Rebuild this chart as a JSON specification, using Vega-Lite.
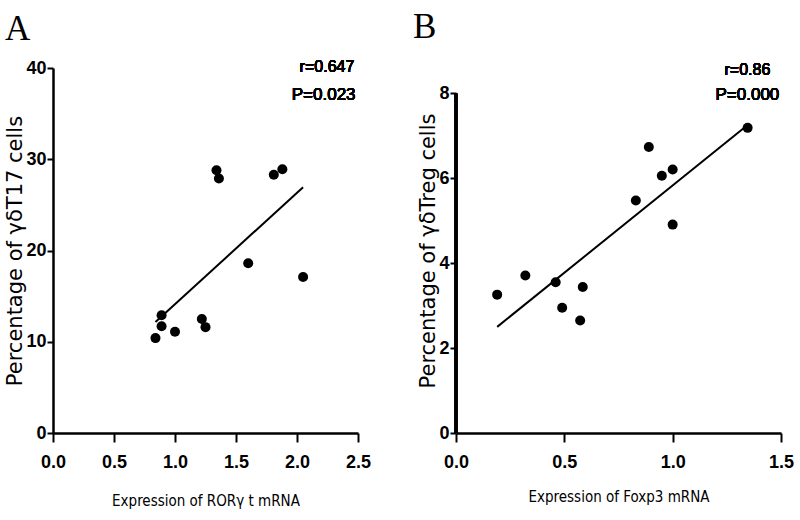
{
  "$schema": "https://vega.github.io/schema/vega-lite/v6.json",
  "padding": {"left": 4, "top": 10, "right": 3, "bottom": 3},
  "spacing": 41,
  "config": {
    "view": {"stroke": null},
    "axis": {
      "grid": false,
      "domainColor": "black",
      "domainWidth": 2.5,
      "tickColor": "black",
      "tickWidth": 2,
      "labelFont": "Liberation Sans",
      "labelFontWeight": "bold",
      "labelFontSize": 18,
      "labelColor": "black",
      "labelOverlap": false,
      "labelFlush": false,
      "titleColor": "black",
      "titleFontWeight": "normal"
    },
    "axisX": {"titleFont": "DejaVu Sans Condensed, Liberation Sans", "titleFontSize": 15, "tickSize": 9, "labelPadding": 11},
    "axisY": {"titleFont": "DejaVu Sans", "titleFontSize": 21, "titlePadding": 0, "tickSize": 6, "labelPadding": 1},
    "title": {"font": "Liberation Serif", "fontSize": 35, "fontWeight": "normal", "color": "black", "anchor": "start", "frame": "bounds", "baseline": "alphabetic"}
  },
  "hconcat": [
    {
      "width": 305,
      "height": 365,
      "title": {"text": "A", "offset": 12},
      "data": {"values": [
        {"expression": 0.84, "percentage": 10.4},
        {"expression": 0.89, "percentage": 12.9},
        {"expression": 0.89, "percentage": 11.7},
        {"expression": 1.0, "percentage": 11.1},
        {"expression": 1.22, "percentage": 12.5},
        {"expression": 1.25, "percentage": 11.6},
        {"expression": 1.6, "percentage": 18.6},
        {"expression": 2.05, "percentage": 17.1},
        {"expression": 1.34, "percentage": 28.8},
        {"expression": 1.36, "percentage": 27.9},
        {"expression": 1.81, "percentage": 28.3},
        {"expression": 1.88, "percentage": 28.9}
      ]},
      "encoding": {
        "x": {"field": "expression", "type": "quantitative", "scale": {"domain": [0, 2.5], "nice": false}, "axis": {"values": [0, 0.5, 1, 1.5, 2, 2.5], "format": ".1f", "title": "Expression of RORγ t mRNA", "titlePadding": 22}},
        "y": {"field": "percentage", "type": "quantitative", "scale": {"domain": [0, 40], "nice": false}, "axis": {"values": [0, 10, 20, 30, 40], "title": "Percentage  of  γδT17  cells"}}
      },
      "layer": [
        {"mark": {"type": "point", "filled": true, "color": "black", "size": 100, "opacity": 1}},
        {"transform": [{"regression": "percentage", "on": "expression"}], "mark": {"type": "line", "color": "black", "strokeWidth": 2}},
        {"mark": {"type": "text", "font": "Liberation Sans", "fontWeight": "normal", "fontSize": 16, "align": "right", "baseline": "alphabetic", "fill": "black", "strokeWidth": 0},
         "encoding": {"x": {"datum": 2.47}, "y": {"datum": 39.6}, "text": {"value": "r=0.647"}}},
        {"mark": {"type": "text", "font": "Liberation Sans", "fontWeight": "normal", "fontSize": 17, "align": "right", "baseline": "alphabetic", "fill": "black", "strokeWidth": 0},
         "encoding": {"x": {"datum": 2.48}, "y": {"datum": 36.5}, "text": {"value": "P=0.023"}}}
      ]
    },
    {
      "width": 325,
      "height": 365,
      "title": {"text": "B", "offset": 17, "dx": -5},
      "data": {"values": [
        {"expression": 0.19, "percentage": 3.26},
        {"expression": 0.32, "percentage": 3.71},
        {"expression": 0.46, "percentage": 3.55},
        {"expression": 0.49, "percentage": 2.95},
        {"expression": 0.585, "percentage": 3.44},
        {"expression": 0.573, "percentage": 2.65},
        {"expression": 0.83, "percentage": 5.48},
        {"expression": 0.89, "percentage": 6.74},
        {"expression": 0.95, "percentage": 6.06},
        {"expression": 1.0, "percentage": 6.21},
        {"expression": 1.0, "percentage": 4.91},
        {"expression": 1.346, "percentage": 7.19}
      ]},
      "encoding": {
        "x": {"field": "expression", "type": "quantitative", "scale": {"domain": [0, 1.5], "nice": false}, "axis": {"values": [0, 0.5, 1, 1.5], "format": ".1f", "title": "Expression of Foxp3 mRNA", "titlePadding": 18}},
        "y": {"field": "percentage", "type": "quantitative", "scale": {"domain": [0, 8.6], "nice": false}, "axis": {"values": [0, 2, 4, 6, 8], "domain": false, "title": "Percentage  of  γδTreg  cells"}}
      },
      "layer": [
        {"mark": {"type": "point", "filled": true, "color": "black", "size": 100, "opacity": 1}},
        {"transform": [{"regression": "percentage", "on": "expression"}], "mark": {"type": "line", "color": "black", "strokeWidth": 2}},
        {"mark": {"type": "rule", "color": "black", "strokeWidth": 2.5},
         "encoding": {"x": {"datum": 0}, "y": {"datum": 0}, "y2": {"datum": 8}}},
        {"mark": {"type": "text", "font": "Liberation Sans", "fontWeight": "normal", "fontSize": 16, "align": "center", "baseline": "alphabetic", "fill": "black", "strokeWidth": 0},
         "encoding": {"x": {"datum": 1.345}, "y": {"datum": 8.43}, "text": {"value": "r=0.86"}}},
        {"mark": {"type": "text", "font": "Liberation Sans", "fontWeight": "normal", "fontSize": 17, "align": "center", "baseline": "alphabetic", "fill": "black", "strokeWidth": 0},
         "encoding": {"x": {"datum": 1.345}, "y": {"datum": 7.84}, "text": {"value": "P=0.000"}}}
      ]
    }
  ]
}
